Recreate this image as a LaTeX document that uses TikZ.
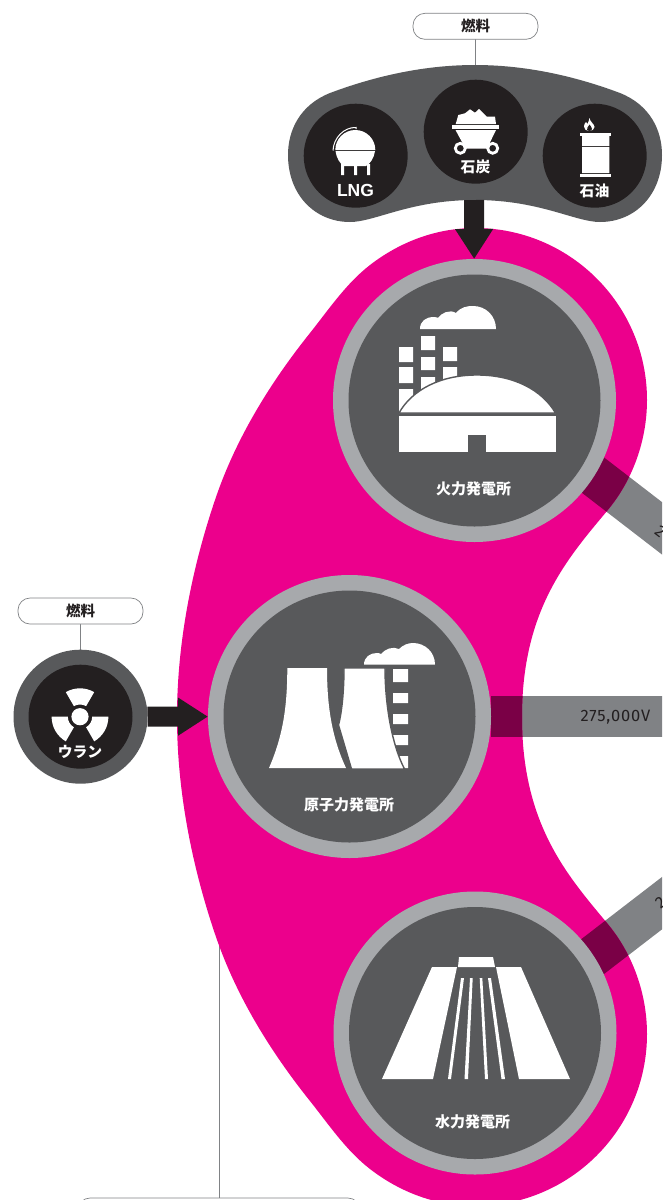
\documentclass[tikz,border=0pt]{standalone}
\usepackage{fontspec}
\setmainfont{Fira Sans}
\newfontfamily\cjk{Noto Sans CJK JP}
\newfontfamily\latinbold{Liberation Sans}
\usetikzlibrary{arrows.meta,backgrounds}
\definecolor{pinkfill}{HTML}{EC008C}
\definecolor{ringgray}{HTML}{A7A9AC}
\definecolor{slate}{HTML}{58595B}
\definecolor{ink}{HTML}{231F20}
\definecolor{bandgray}{HTML}{808285}
\definecolor{overlap}{HTML}{7A0046}
\def\pinkpath{(475,228) .. controls (570,228) and (647,305) .. (647,400)
  .. controls (647,440) and (633,480) .. (607,511)
  .. controls (567,559) and (522,610) .. (522,717)
  .. controls (522,824) and (567,875) .. (607,923)
  .. controls (633,954) and (647,994) .. (647,1034)
  .. controls (647,1129) and (570,1206) .. (475,1206)
  .. controls (436.6,1206) and (400.3,1192.4) .. (370,1169)
  .. controls (346.3,1150.7) and (328.6,1124.4) .. (310,1101)
  .. controls (270,1051) and (235.5,995) .. (215,934)
  .. controls (191.6,865) and (177,790) .. (177,717)
  .. controls (177,644) and (191.6,569) .. (215,500)
  .. controls (235.5,439) and (270,383) .. (310,333)
  .. controls (328.6,309.6) and (346.3,283.3) .. (370,265)
  .. controls (400.3,241.6) and (436.6,228) .. (475,228) -- cycle}
\tikzset{
  x=1pt,y=-1pt,
  ringnode/.style={circle,fill=ringgray,inner sep=0pt,outer sep=0pt,minimum size=283pt},
  corenode/.style={circle,fill=slate,inner sep=0pt,outer sep=0pt,minimum size=252pt},
  fuelnode/.style={circle,fill=ink,inner sep=0pt,outer sep=0pt,minimum size=104pt},
  uranouter/.style={circle,fill=slate,inner sep=0pt,outer sep=0pt,minimum size=134pt},
  tagbox/.style={draw=bandgray,line width=0.7pt,fill=white,rounded corners=12pt,inner sep=0pt,outer sep=0pt,minimum width=125pt,minimum height=26pt,text=ink,font=\cjk\bfseries\fontsize{14.5}{16}\selectfont},
  tagline/.style={draw=bandgray,line width=0.8pt},
  plantlabel/.style={text=white,inner sep=0pt,font=\cjk\bfseries\fontsize{15}{16}\selectfont},
  fuellabel/.style={text=white,inner sep=0pt,font=\cjk\bfseries\fontsize{14.8}{16}\selectfont},
  bandline/.style={draw=bandgray,line width=41.5pt},
  bandover/.style={draw=overlap,line width=41.5pt},
  bigarrow/.style={draw=ink,line width=20pt,-{Triangle[length=30pt,width=36pt]}},
  volt/.style={text=ink,inner sep=0pt,font=\fontsize{16.5}{18}\selectfont\addfontfeatures{LetterSpace=5}},
  iconwhite/.style={fill=white,draw=none},
  iconcut/.style={fill=white,draw=slate,line width=1.4pt},
}
\begin{document}
\begin{tikzpicture}
\useasboundingbox (0,0) rectangle (662,1200);
\begin{scope}
\clip (0,0) rectangle (662,1200);
% main nodes
\node[ringnode] (fire) at (474.5,400.5) {};
\node[corenode] (firecore) at (474.5,400.5) {};
\node[ringnode] (nuc) at (349.5,716.5) {};
\node[corenode] (nuccore) at (349.5,716.5) {};
\node[ringnode] (hydro) at (475,1033) {};
\node[corenode] (hydrocore) at (475,1033) {};
\node[fuelnode] (lng) at (355.7,155.7) {};
\node[fuelnode] (coal) at (475.7,131.7) {};
\node[fuelnode] (oil) at (594.7,155.7) {};
\node[uranouter] (uran) at (80.5,716.7) {};
\node[fuelnode] (urancore) at (80.5,716.7) {};
\node[tagbox] (tagtop) at (475.5,26.3) {燃料};
\node[tagbox] (tagleft) at (80.5,611) {燃料};
\node[tagbox,minimum width=282pt] (tagbottom) at (219,1211) {};
\coordinate (podtop) at (475.5,66);
\coordinate (podbase) at (474,200);
\coordinate (pinkleft) at (219,930);
\coordinate (bandAin) at (560,449.7);
\coordinate (bandAout) at (720,573);
\coordinate (bandBin) at (560,981.7);
\coordinate (bandBout) at (720,858.5);
\coordinate (bandCout) at (700,716.5);
% labels
\node[plantlabel] (firelabel) at (473.5,489) {火力発電所};
\node[plantlabel] (nuclabel) at (349,805) {原子力発電所};
\node[plantlabel] (hydrolabel) at (472.5,1122) {水力発電所};
\node[fuellabel] (coallabel) at (475.5,166.5) {石炭};
\node[fuellabel] (oillabel) at (594.5,191) {石油};
\node[fuellabel] (uranlabel) at (80,752) {ウラン};
\node[text=white,inner sep=0pt,font=\latinbold\bfseries\fontsize{17.5}{18}\selectfont] (lnglabel) at (355.5,190) {LNG};
\node[volt] (voltC) at (615.5,717) {275,000V};
\node[volt,anchor=west,rotate=-37.6] (voltA) at (657,529) {2};
\node[volt,anchor=west,rotate=37.6] (voltB) at (657,905) {2};
% fire plant icon
\fill[white] (420,329) .. controls (420,321) and (426,317) .. (434,317) .. controls (437,317) and (438,318) .. (438,318)
  .. controls (441,313) and (450,309) .. (456,313) .. controls (461,307) and (467,306) .. (473,306)
  .. controls (486,306) and (496,316) .. (496,329) -- cycle;
\fill[white] (399,347) rectangle (413,362) (399,367) rectangle (413,383) (399,389) rectangle (413,412);
\fill[white] (421,336) rectangle (435,350) (421,357) rectangle (435,370) (421,377) rectangle (435,400);
\fill[white] (443,347) rectangle (457,361) (443,367) rectangle (457,390);
\path[iconcut] (399,413) .. controls (412,390) and (440,375) .. (477,375) .. controls (514,375) and (542,390) .. (555.5,413) -- cycle;
\fill[white] (399,416) rectangle (555.5,452);
\fill[slate] (468,435) rectangle (486,452);
% nuclear icon
\fill[white] (364,664.7) .. controls (364,657) and (370,653) .. (377,653) .. controls (379,653) and (380,653.5) .. (381,654)
  .. controls (385,649) and (393,646) .. (399,649) .. controls (403,645) and (408,643) .. (413,643)
  .. controls (425,643) and (435,652) .. (435,664.7) -- cycle;
\fill[white] (393,669) rectangle (408,682) (393,693) rectangle (408,703) (393,714) rectangle (408,724) (393,735) rectangle (408,745) (393,756) rectangle (408,768);
\fill[white] (287.3,668) -- (327,668) .. controls (327,710) and (333,740) .. (346,768) -- (269,768) .. controls (282,738) and (287.3,710) .. (287.3,668) -- cycle;
\path[iconcut] (344,668) -- (385,668) .. controls (385,705) and (392,745) .. (404.5,769) -- (351.5,769) -- (338.5,725) .. controls (342,712) and (344,690) .. (344,668) -- cycle;
\fill[slate] (340,768.5) rectangle (410,771);
% hydro icon
\fill[white] (432,967) -- (457,967) -- (433,1079) -- (382,1079) -- cycle;
\fill[white] (496,967) -- (521,967) -- (570,1079) -- (519,1079) -- cycle;
\fill[white] (459,957) -- (493,957) -- (495,967) -- (458,967) -- cycle;
\fill[white] (461,978) -- (464,978) -- (451,1079) -- (448,1079) -- cycle;
\fill[white] (470,978) -- (472.7,978) -- (468,1079) -- (464.5,1079) -- cycle;
\fill[white] (479.7,978) -- (482.3,978) -- (488,1079) -- (485,1079) -- cycle;
\fill[white] (488,978) -- (491,978) -- (505,1079) -- (501.5,1079) -- cycle;
% LNG icon
\fill[white] (335.3,150) arc[start angle=180,end angle=0,radius=20pt] -- cycle;
\fill[white] (335.5,151.2) -- (375,151.2) .. controls (374,158) and (370,164) .. (366,166) -- (344,166) .. controls (340,164) and (336.5,158) .. (335.5,151.2) -- cycle;
\fill[white] (341,164) rectangle (344,175) (354,166) rectangle (357,175) (367,164) rectangle (370,175);
\draw[white,line width=1pt] (333,150.5) .. controls (333.5,138) and (344,127) .. (356,127.5) -- (356,129);
% coal icon
\fill[white] (455.7,124) -- (458.3,115) -- (465,113.3) -- (470,109.3) -- (475,112.7) -- (479,109) -- (486.7,116.7) -- (495,116.7) -- (496,124) -- cycle;
\fill[white] (452.3,124.5) rectangle (499.3,129);
\fill[white] (455.5,130) -- (496,130) -- (487,148.5) -- (465.5,148.5) -- cycle;
\filldraw[fill=ink,draw=white,line width=2.8pt] (460.3,148.3) circle[radius=5pt];
\filldraw[fill=ink,draw=white,line width=2.8pt] (492.7,148.3) circle[radius=5pt];
% oil icon
\fill[white] (589.5,118) .. controls (590,122) and (594.5,124) .. (594.5,127) .. controls (594.5,129.5) and (592,131) .. (589,131)
  .. controls (586,131) and (584,129) .. (584,126.5) .. controls (584,124.5) and (585,123) .. (586,122) .. controls (586.5,123) and (587,123.5) .. (587.5,124) .. controls (588,122) and (589.5,120) .. (589.5,118) -- cycle;
\fill[ink] (589,131) .. controls (587,131) and (586.5,129) .. (587.5,127.5) .. controls (588.2,126.5) and (589,126) .. (589.5,124.5) .. controls (590.5,126) and (592,127.5) .. (592,129) .. controls (592,130.5) and (590.5,131) .. (589,131) -- cycle;
\fill[white] (580,132.7) rectangle (611,136);
\fill[white] (582,136) rectangle (609.3,146.2) (582,147.2) rectangle (609.3,173);
\fill[white] (580,174) rectangle (611,176.7);
% uranium icon
\foreach \a in {60,180,300}{
  \fill[white,shift={(80,716.7)}] (\a:12.2pt) -- (\a:28.4pt) arc[start angle=\a,delta angle=60,radius=28.4pt] -- ({\a+60}:12.2pt) arc[start angle=\a+60,delta angle=-60,radius=12.2pt] -- cycle;
}
\fill[white] (80,716.7) circle[radius=8.6pt];
\end{scope}
\begin{pgfonlayer}{background}
\begin{scope}
\clip (0,0) rectangle (662,1200);
\draw[tagline] (tagtop) -- (podtop);
\draw[tagline] (tagleft) -- (uran);
\draw[tagline] (pinkleft) -- (tagbottom);
\draw[bandline] (bandAin) -- (bandAout);
\draw[bandline] (bandBin) -- (bandBout);
\draw[bandline] (nuc) -- (bandCout);
\fill[pinkfill] \pinkpath;
\begin{scope}
\clip \pinkpath;
\draw[bandover] (bandAin) -- (bandAout);
\draw[bandover] (bandBin) -- (bandBout);
\draw[bandover] (nuc) -- (bandCout);
\end{scope}
\fill[slate] (475,65) .. controls (530,65) and (580,78) .. (620,93)
  .. controls (650,105) and (662,130) .. (662,155)
  .. controls (662,195) and (635,222) .. (600,222)
  .. controls (575,222) and (540,200) .. (475,200)
  .. controls (410,200) and (375,222) .. (350,222)
  .. controls (315,222) and (288,195) .. (288,155)
  .. controls (288,130) and (300,105) .. (330,93)
  .. controls (370,78) and (420,65) .. (475,65) -- cycle;
\draw[bigarrow] (podbase) -- (fire);
\draw[bigarrow] (uran) -- (nuc);
\end{scope}
\end{pgfonlayer}
\end{tikzpicture}
\end{document}
